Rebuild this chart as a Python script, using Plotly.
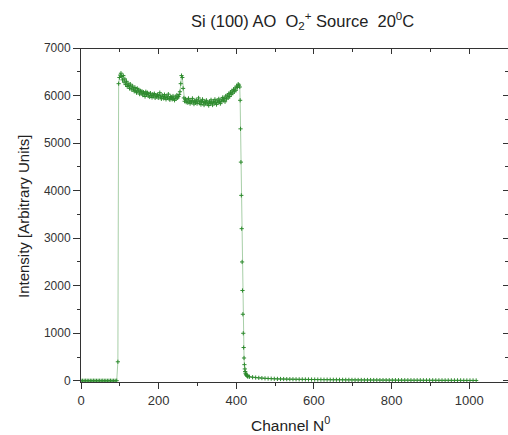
import numpy as np
import plotly.graph_objects as go

# channel numbers (x) per segment
ch_zero = list(range(0, 93, 4))
ch_edge = [95]
ch_plateau = list(range(97, 410, 2))
ch_drop = list(range(410, 431))
ch_tail = list(range(434, 1023, 8))

# intensity values (y) per segment
y_zero = [0, 1, 0, 2, 1, 0, 1, 0, 2, 1, 0, 1, 1, 0, 2, 0, 1, 0, 1, 2, 0, 1, 0, 3]
y_edge = [400]
y_plateau = [
    6250, 6380, 6430, 6470, 6400, 6330, 6420, 6280, 6350, 6230,
    6300, 6190, 6260, 6210, 6150, 6240, 6180, 6120, 6200, 6140,
    6090, 6170, 6110, 6060, 6150, 6080, 6120, 6030, 6100, 6050,
    6090, 6010, 6070, 6040, 5980, 6080, 6020, 6060, 5990, 6040,
    5970, 6050, 6000, 5960, 6030, 5990, 6040, 5950, 6010, 5980,
    6020, 5950, 6000, 6060, 5970, 5930, 6010, 5980, 5940, 6020,
    5960, 5920, 5990, 5950, 6030, 5940, 5910, 5980, 5960, 5920,
    5990, 5940, 5900, 5970, 5930, 6010, 5950, 5980, 6020, 6080,
    6250, 6420, 6380, 6150, 5950, 5880, 5930, 5860, 5910, 5850,
    5940, 5880, 5830, 5900, 5860, 5940, 5870, 5820, 5890, 5850,
    5910, 5830, 5880, 5950, 5840, 5890, 5810, 5870, 5920, 5850,
    5800, 5880, 5840, 5900, 5820, 5860, 5790, 5870, 5830, 5910,
    5850, 5800, 5880, 5840, 5920, 5860, 5810, 5890, 5850, 5930,
    5870, 5830, 5910, 5880, 5960, 5900, 5940, 5870, 5990, 5930,
    6010, 5950, 6040, 5980, 6070, 6020, 6100, 6050, 6130, 6080,
    6160, 6110, 6200, 6170, 6240, 6220, 6180,
]
y_drop = [5900, 5300, 4600, 3900, 3200, 2500, 1900, 1400, 1000, 700,
          480, 340, 250, 195, 160, 140, 125, 115, 105, 97, 90]
y_tail = [
    85, 75, 68, 62, 57, 52, 48, 45, 42, 40,
    38, 37, 35, 34, 33, 32, 31, 30, 29, 28,
    27, 27, 26, 25, 24, 24, 23, 22, 22, 21,
    21, 20, 20, 19, 19, 18, 18, 17, 17, 16,
    16, 16, 15, 15, 15, 14, 14, 14, 13, 13,
    13, 13, 12, 12, 12, 12, 11, 11, 11, 11,
    11, 10, 10, 10, 10, 9, 9, 9, 9, 8,
    8, 8, 8, 7,
]

x_vals = ch_zero + ch_edge + ch_plateau + ch_drop + ch_tail
y_vals = y_zero + y_edge + y_plateau + y_drop + y_tail

x_ticks = [0, 200, 400, 600, 800, 1000]
y_ticks = [0, 1000, 2000, 3000, 4000, 5000, 6000, 7000]

FONT = "Liberation Sans, Arial, sans-serif"
AX = "#333333"
TXT = "#222222"
X_RANGE = [0, 1100]
Y_RANGE = [-25, 7000]

fig = go.Figure()
fig.add_trace(go.Scatter(
    x=x_vals, y=y_vals, mode="lines+markers",
    line=dict(color="#a8cfa8", width=1),
    marker=dict(symbol="cross-thin", size=3, color="#2e8b2e",
                line=dict(color="#2e8b2e", width=1)),
    showlegend=False, hoverinfo="skip",
))
# dummy traces for top/right mirrored axes
fig.add_trace(go.Scatter(x=[], y=[], xaxis="x2", yaxis="y", showlegend=False))
fig.add_trace(go.Scatter(x=[], y=[], xaxis="x", yaxis="y2", showlegend=False))

fig.update_layout(
    template="none",
    width=508, height=435,
    margin=dict(l=81, r=0, t=48, b=53, autoexpand=False),
    paper_bgcolor="white", plot_bgcolor="white",
    font=dict(family=FONT, color=AX),
    xaxis=dict(
        range=X_RANGE, tickvals=x_ticks, ticks="outside", ticklen=6,
        tickwidth=1, tickcolor=AX, showline=True, linecolor=AX, linewidth=1,
        showgrid=False, zeroline=False, automargin=False,
        tickfont=dict(family=FONT, size=13, color=AX),
        minor=dict(dtick=100, tick0=0, ticks="outside", ticklen=3, tickcolor=AX),
    ),
    yaxis=dict(
        range=Y_RANGE, tickvals=y_ticks, ticks="outside", ticklen=7,
        tickwidth=1, tickcolor=AX, showline=True, linecolor=AX, linewidth=1,
        showgrid=False, zeroline=False, automargin=False,
        tickfont=dict(family=FONT, size=12, color=AX),
        minor=dict(dtick=500, tick0=0, ticks="outside", ticklen=3, tickcolor=AX),
    ),
    xaxis2=dict(
        overlaying="x", side="top", anchor="free", position=1, range=X_RANGE,
        tickvals=x_ticks, ticks="inside", ticklen=5, tickcolor=AX,
        showticklabels=False, showline=True, linecolor=AX, linewidth=1,
        showgrid=False, zeroline=False, automargin=False,
        minor=dict(dtick=100, tick0=0, ticks="inside", ticklen=3, tickcolor=AX),
    ),
    yaxis2=dict(
        overlaying="y", side="right", anchor="free", position=1, range=Y_RANGE,
        tickvals=y_ticks, ticks="inside", ticklen=5, tickcolor=AX,
        showticklabels=False, showline=True, linecolor=AX, linewidth=1,
        showgrid=False, zeroline=False, automargin=False,
        minor=dict(dtick=500, tick0=0, ticks="inside", ticklen=3, tickcolor=AX),
    ),
    annotations=[
        dict(text="Si (100) AO&nbsp; O<sub>2</sub><sup>+</sup> Source&nbsp; 20<sup>0</sup>C",
             x=(302 - 81) / 427, y=(382 - 21) / 334, xref="paper", yref="paper",
             showarrow=False, xanchor="center", yanchor="middle",
             font=dict(family=FONT, size=16.5, color=TXT)),
        dict(text="Intensity [Arbitrary Units]",
             x=(23 - 81) / 427, y=(382 - 216) / 334, xref="paper", yref="paper",
             showarrow=False, textangle=-90, xanchor="center", yanchor="middle",
             font=dict(family=FONT, size=15, color=TXT)),
        dict(text="Channel N<sup>0</sup>",
             x=(290 - 81) / 427, y=(382 - 424) / 334, xref="paper", yref="paper",
             showarrow=False, xanchor="center", yanchor="middle",
             font=dict(family=FONT, size=15.5, color=TXT)),
    ],
)

fig.write_html("out.html")
